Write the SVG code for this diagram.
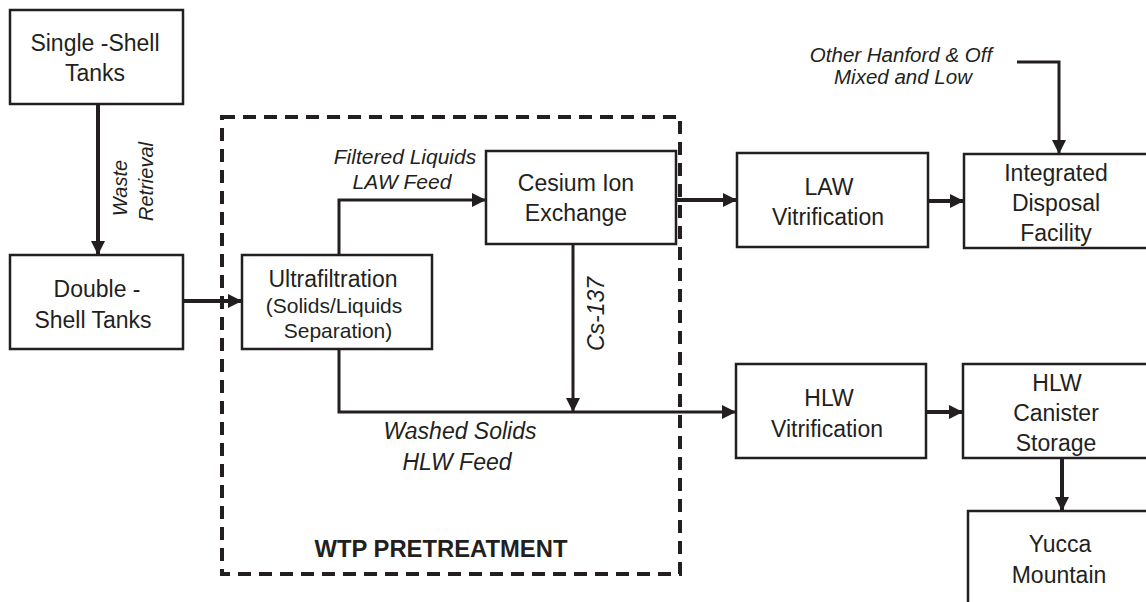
<svg xmlns="http://www.w3.org/2000/svg" width="1146" height="602" viewBox="0 0 1146 602">
<style>
.box{fill:#fff;stroke:#231f20;stroke-width:2.5}
.t{font-family:"Liberation Sans",Arial,sans-serif;font-size:23px;fill:#231f20;text-anchor:middle}
.s{font-size:21px}
.i{font-family:"Liberation Sans",Arial,sans-serif;font-style:italic;fill:#231f20;text-anchor:middle}
.c{fill:none;stroke:#231f20;stroke-width:3}
.w{stroke-width:4}
</style>
<defs>
<marker id="ah" markerUnits="userSpaceOnUse" markerWidth="14" markerHeight="14" refX="14" refY="7" orient="auto">
<path d="M0,0 L14,7 L0,14 z" fill="#231f20"/>
</marker>
</defs>
<rect id="wtp" x="222" y="117" width="458" height="457" fill="none" stroke="#231f20" stroke-width="4" stroke-dasharray="13 8"/>
<text class="t" x="441" y="557" style="font-weight:bold;font-size:23.8px">WTP PRETREATMENT</text>
<g id="single-shell"><rect class="box" x="10" y="10" width="173" height="94"/><text class="t" x="95" y="51">Single -Shell</text><text class="t" x="95" y="81">Tanks</text></g>
<g id="double-shell"><rect class="box" x="10" y="255" width="173" height="94"/><text class="t" x="97" y="297">Double -</text><text class="t" x="93" y="328">Shell Tanks</text></g>
<g id="ultrafiltration"><rect class="box" x="242" y="255" width="190" height="94"/><text class="t" x="333" y="287">Ultrafiltration</text><text class="t s" x="334" y="313">(Solids/Liquids</text><text class="t s" x="338" y="338">Separation)</text></g>
<g id="cesium"><rect class="box" x="486" y="151" width="190" height="93"/><text class="t" x="576" y="191">Cesium Ion</text><text class="t" x="576" y="221">Exchange</text></g>
<g id="law-vit"><rect class="box" x="737" y="153" width="191" height="94"/><text class="t" x="829" y="195">LAW</text><text class="t" x="828" y="225">Vitrification</text></g>
<g id="idf"><rect class="box" x="964" y="154" width="190" height="94"/><text class="t" x="1056" y="180.5">Integrated</text><text class="t" x="1056" y="210.5">Disposal</text><text class="t" x="1056" y="240.5">Facility</text></g>
<g id="hlw-vit"><rect class="box" x="736" y="364" width="190" height="94"/><text class="t" x="829" y="406">HLW</text><text class="t" x="827" y="437">Vitrification</text></g>
<g id="canister"><rect class="box" x="963" y="364" width="190" height="94"/><text class="t" x="1057" y="391">HLW</text><text class="t" x="1056" y="421">Canister</text><text class="t" x="1056" y="451">Storage</text></g>
<g id="yucca"><rect class="box" x="968" y="511" width="190" height="100"/><text class="t" x="1060" y="552">Yucca</text><text class="t" x="1059" y="583">Mountain</text></g>
<g id="connectors">
<path class="c w" d="M98,104 V255" marker-end="url(#ah)"/>
<path class="c w" d="M183,301 H242" marker-end="url(#ah)"/>
<path class="c" d="M339,255 V200 H486" marker-end="url(#ah)"/>
<path class="c" d="M573,244 V412" marker-end="url(#ah)"/>
<path class="c" d="M339,349 V412 H736" marker-end="url(#ah)"/>
<path class="c w" d="M676,200 H737" marker-end="url(#ah)"/>
<path class="c w" d="M928,201 H964" marker-end="url(#ah)"/>
<path class="c" d="M1017,62 H1059 V154" marker-end="url(#ah)"/>
<path class="c w" d="M926,412 H963" marker-end="url(#ah)"/>
<path class="c w" d="M1062,458 V511" marker-end="url(#ah)"/>
</g>
<g id="labels">
<text class="i" font-size="20" transform="translate(127,188) rotate(-90)">Waste</text>
<text class="i" font-size="20" transform="translate(153,181.5) rotate(-90)">Retrieval</text>
<text class="i" font-size="21" x="405" y="164">Filtered Liquids</text>
<text class="i" font-size="21" x="402" y="189">LAW Feed</text>
<text class="i" font-size="23" transform="translate(604,314) rotate(-90)">Cs-137</text>
<text class="i" font-size="23" x="460" y="439">Washed Solids</text>
<text class="i" font-size="23" x="457" y="470">HLW Feed</text>
<text class="i" font-size="20.5" x="901" y="62">Other Hanford &amp; Off</text>
<text class="i" font-size="20.5" x="903" y="84">Mixed and Low</text>
</g>
</svg>
